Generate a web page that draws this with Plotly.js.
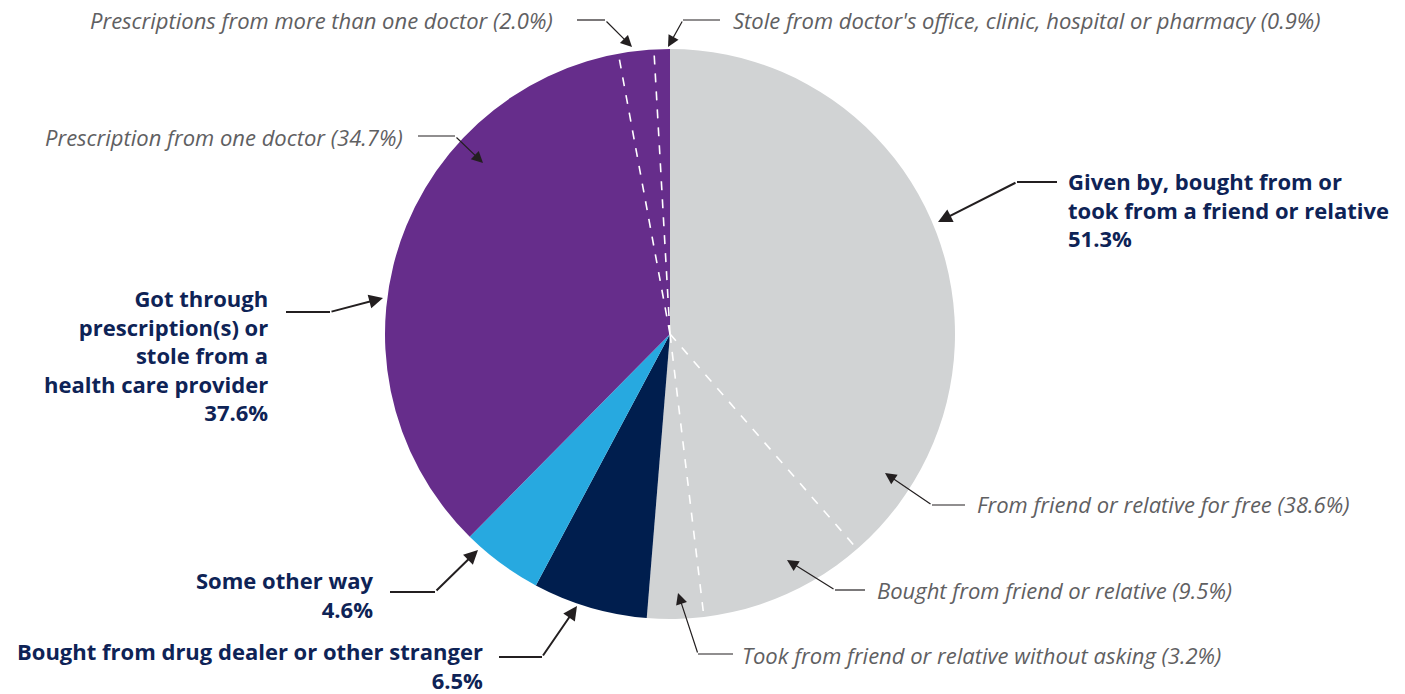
<!DOCTYPE html>
<html>
<head>
<meta charset="utf-8">
<script src="https://cdn.plot.ly/plotly-3.0.1.min.js"></script>
<style>html,body{margin:0;padding:0;background:#fff;}#chart{width:1405px;height:694px;}</style>
</head>
<body>
<div id="chart"></div>
<script>
// ---- Data ----
const mainLabels = [
  'Given by, bought from or<br>took from a friend or relative',
  'Bought from drug dealer or other stranger',
  'Some other way',
  'Got through<br>prescription(s) or<br>stole from a<br>health care provider'
];
const mainValues = [51.3, 6.5, 4.6, 37.6];
const mainColors = ['#d1d3d4', '#001e4e', '#27a9e0', '#662d8b'];

const friendLabels = ['From friend or relative for free', 'Bought from friend or relative', 'Took from friend or relative without asking'];
const friendValues = [38.6, 9.5, 3.2];

const rxLabels = ['Prescription from one doctor', 'Prescriptions from more than one doctor', "Stole from doctor's office, clinic, hospital or pharmacy"];
const rxValues = [34.7, 2.0, 0.9];

// ---- Geometry (layout) ----
const W = 1405, H = 694;
const CX = 670, CY = 334, R = 285;
const total = mainValues.reduce((a, b) => a + b, 0);

function edgePoint(cum) {
  const t = 2 * Math.PI * cum / total;
  return [CX + R * Math.sin(t), CY - R * Math.cos(t)];
}

// dashed sub-dividers
const dividerCums = [];
{
  let c = 0;
  for (let i = 0; i < friendValues.length - 1; i++) { c += friendValues[i]; dividerCums.push(c); }
  let start = mainValues[0] + mainValues[1] + mainValues[2];
  c = start;
  for (let i = 0; i < rxValues.length - 1; i++) { c += rxValues[i]; dividerCums.push(c); }
}

const shapes = dividerCums.map(cv => {
  const p = edgePoint(cv);
  return {type: 'line', xref: 'x', yref: 'y', x0: CX, y0: CY, x1: p[0], y1: p[1],
          line: {color: '#ffffff', width: 1.6, dash: 'dash'}, layer: 'above'};
});

const BOLD = {family: 'Open Sans, sans-serif', size: 22, color: '#0e2356', weight: 'bold'};
const ITAL = {family: 'Open Sans, sans-serif', size: 22, color: '#5f6062', style: 'italic'};
const LINE = '#231f20';

const fmt = v => v.toFixed(1) + '%';

// label annotations: [text, x, y, xanchor, font]
const labelSpecs = [
  ['<b>' + mainLabels[0] + '<br>' + fmt(mainValues[0]) + '</b>', 1066, 209, 'left', BOLD],
  ['<b>' + mainLabels[3] + '<br>' + fmt(mainValues[3]) + '</b>', 270, 355, 'right', BOLD],
  ['<b>' + mainLabels[2] + '<br>' + fmt(mainValues[2]) + '</b>', 376, 594, 'right', BOLD],
  ['<b>' + mainLabels[1] + '<br>' + fmt(mainValues[1]) + '</b>', 485, 665, 'right', BOLD],
  ['<i>' + friendLabels[0] + ' (' + fmt(friendValues[0]) + ')</i>', 975, 504, 'left', ITAL],
  ['<i>' + friendLabels[1] + ' (' + fmt(friendValues[1]) + ')</i>', 875, 590, 'left', ITAL],
  ['<i>' + friendLabels[2] + ' (' + fmt(friendValues[2]) + ')</i>', 740, 655, 'left', ITAL],
  ['<i>' + rxLabels[0] + ' (' + fmt(rxValues[0]) + ')</i>', 405, 137, 'right', ITAL],
  ['<i>' + rxLabels[1] + ' (' + fmt(rxValues[1]) + ')</i>', 555, 20, 'right', ITAL],
  ['<i>' + rxLabels[2] + ' (' + fmt(rxValues[2]) + ')</i>', 731, 20, 'left', ITAL]
];

// leaders: [startX, startY, cornerX, cornerY, tipX, tipY, width]
const leaders = [
  [1057, 182, 1017, 182, 938, 222, 2],
  [286, 312, 330, 312, 383, 298, 2],
  [390, 592, 435, 592, 478, 550, 2],
  [499, 657, 542, 657, 577, 606, 2],
  [965, 505, 932, 505, 885, 473, 1.2],
  [865, 590, 835, 590, 787, 560, 1.2],
  [733, 654, 698, 654, 678, 593, 1.2],
  [418, 136, 455, 136, 483, 163, 1.2],
  [577, 20, 605, 20, 632, 47, 1.2],
  [720, 20, 683, 20, 668, 47, 1.2]
];

const annotations = labelSpecs.map(s => ({
  text: s[0], x: s[1], y: s[2], xref: 'x', yref: 'y', xanchor: s[3], yanchor: 'middle',
  align: s[3], showarrow: false, font: s[4]
}));

leaders.forEach(l => {
  shapes.push({type: 'line', xref: 'x', yref: 'y', x0: l[0], y0: l[1], x1: l[2], y1: l[3],
               line: {color: LINE, width: l[6]}});
  annotations.push({text: '', x: l[4], y: l[5], xref: 'x', yref: 'y', ax: l[2], ay: l[3],
                    axref: 'x', ayref: 'y', showarrow: true, arrowhead: 2,
                    arrowsize: l[6] > 1.5 ? 1.4 : 1.9, arrowwidth: l[6], arrowcolor: LINE,
                    standoff: 0, startstandoff: 0, font: {size: 1}});
});

const data = [
  {type: 'pie', labels: mainLabels, values: mainValues, sort: false, direction: 'clockwise',
   rotation: 0, textinfo: 'none', hoverinfo: 'label+value', showlegend: false,
   marker: {colors: mainColors, line: {width: 0}},
   domain: {x: [(CX - R) / W, (CX + R) / W], y: [(H - CY - R) / H, (H - CY + R) / H]}},
  {type: 'scatter', x: [], y: [], hoverinfo: 'skip', showlegend: false}
];

const layout = {
  width: W, height: H, margin: {l: 0, r: 0, t: 0, b: 0},
  paper_bgcolor: '#ffffff', plot_bgcolor: 'rgba(0,0,0,0)',
  xaxis: {range: [0, W], visible: false, fixedrange: true},
  yaxis: {range: [H, 0], visible: false, fixedrange: true},
  shapes: shapes, annotations: annotations, showlegend: false
};

Plotly.newPlot('chart', data, layout, {displayModeBar: false, staticPlot: true});
</script>
</body>
</html>
